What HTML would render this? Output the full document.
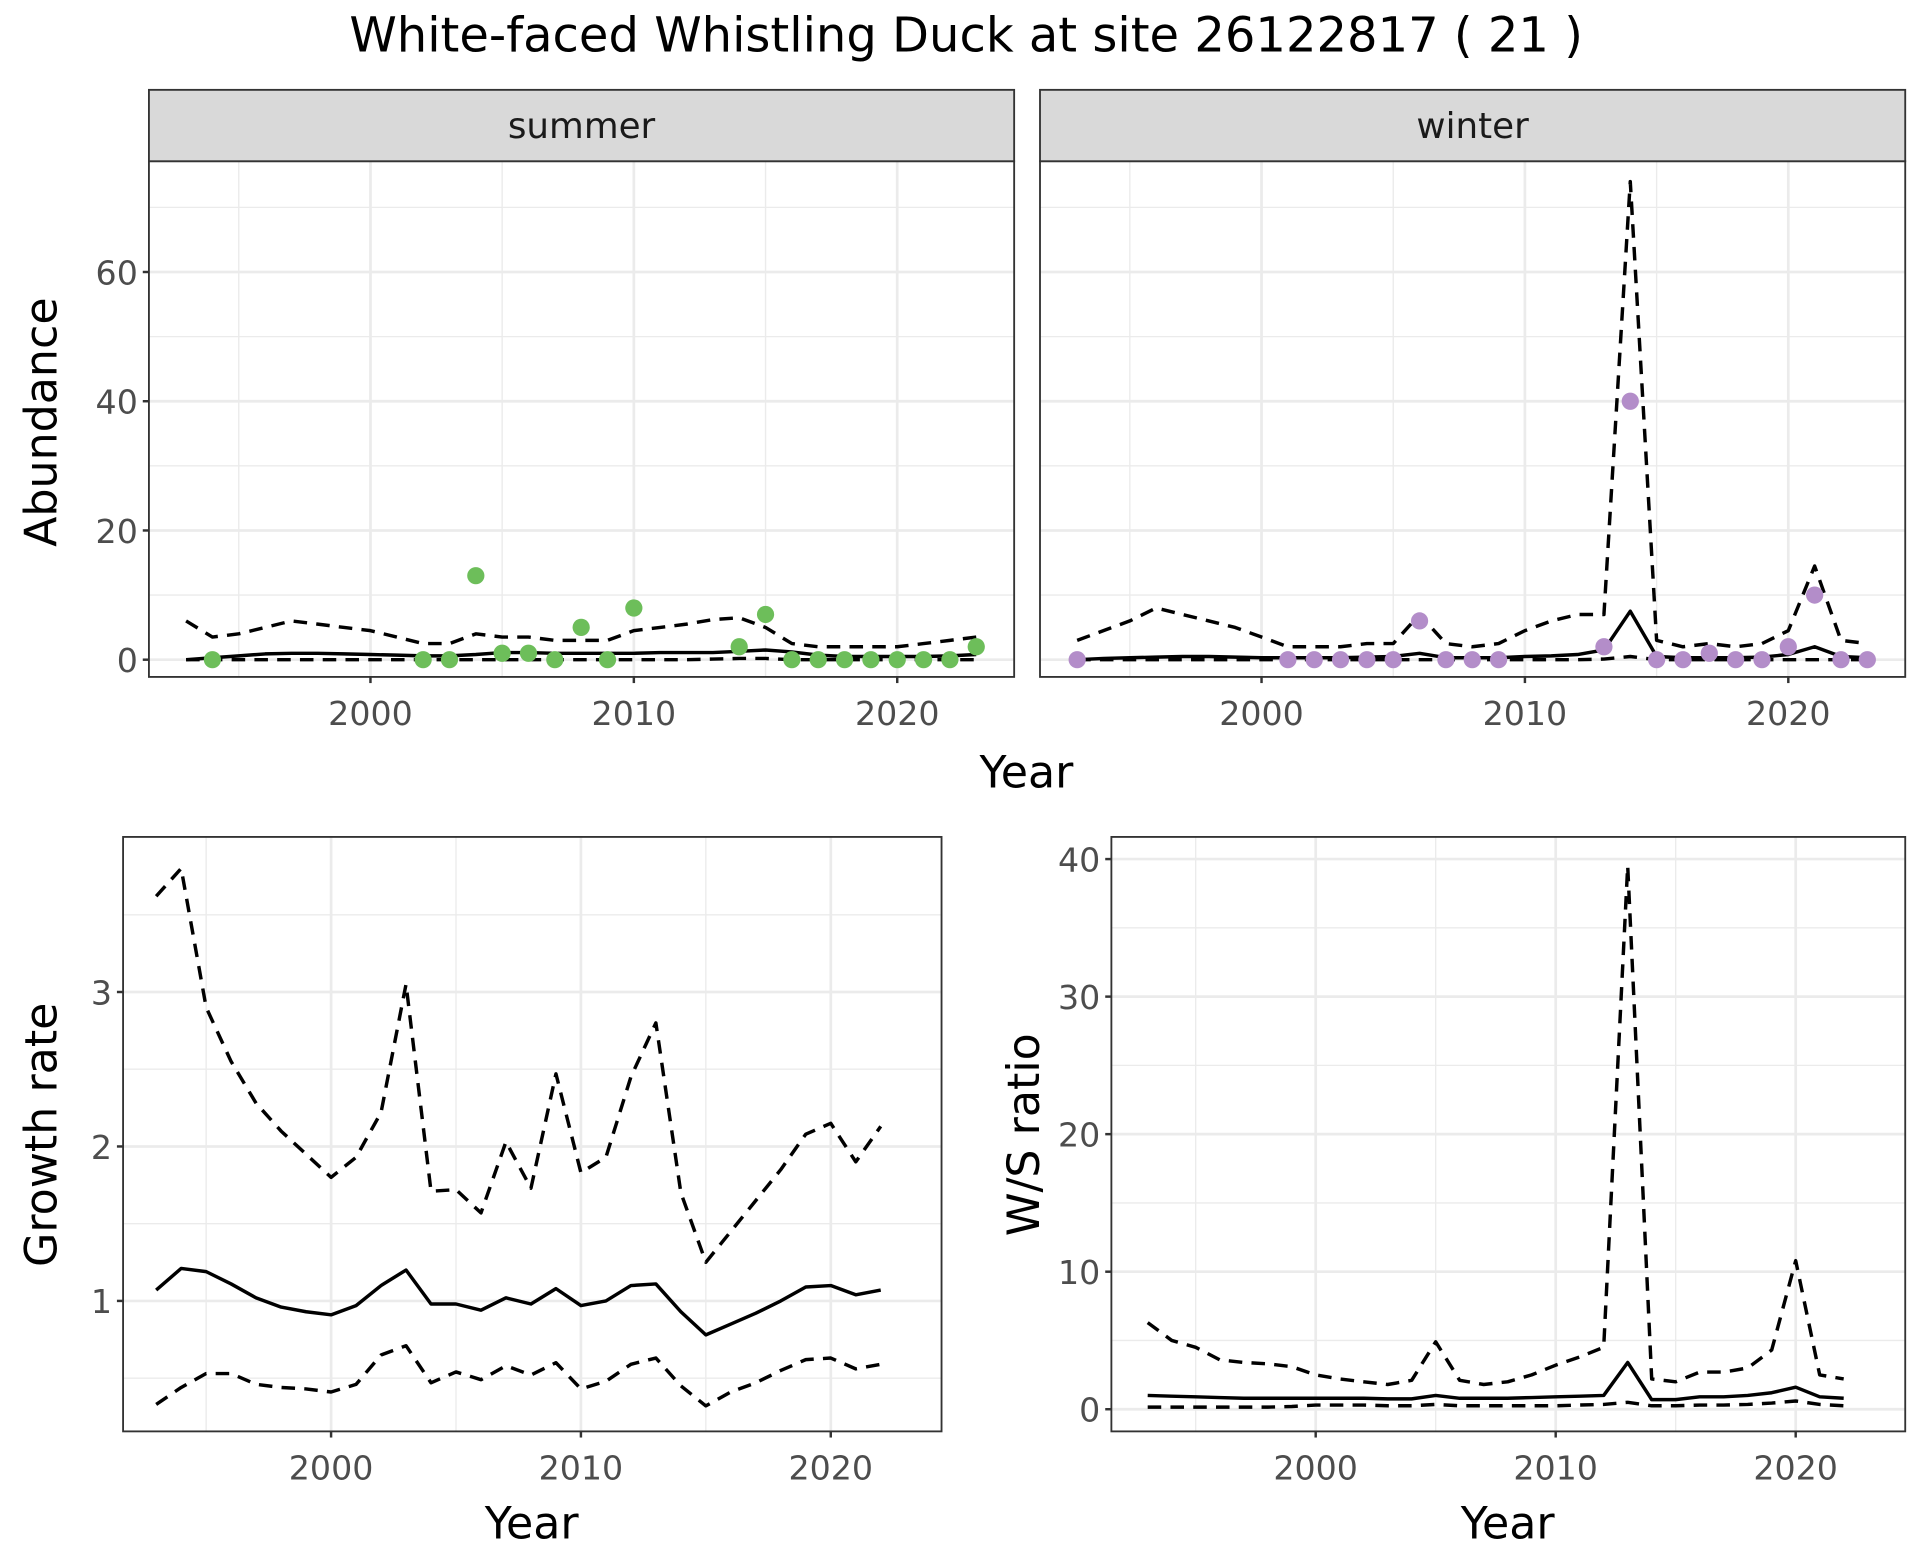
<!DOCTYPE html>
<html><head><meta charset="utf-8"><style>
html,body{margin:0;padding:0;background:#fff;}
svg{display:block;font-family:"DejaVu Sans","Liberation Sans",sans-serif;}
</style></head><body>
<svg id="chart" width="1920" height="1560" viewBox="0 0 1560 1267.5" xmlns="http://www.w3.org/2000/svg">
<text x="785" y="42" font-size="39" text-anchor="middle" fill="#000">White-faced Whistling Duck at site 26122817 ( 21 )</text>
</svg>
<script>
const summerYears=[1994,2002,2003,2004,2005,2006,2007,2008,2009,2010,2014,2015,2016,2017,2018,2019,2020,2021,2022,2023];
const summerCounts=[0,0,0,13,1,1,0,5,0,8,2,7,0,0,0,0,0,0,0,2];
const winterYears=[1993,2001,2002,2003,2004,2005,2006,2007,2008,2009,2013,2014,2015,2016,2017,2018,2019,2020,2021,2022,2023];
const winterCounts=[0,0,0,0,0,0,6,0,0,0,2,40,0,0,1,0,0,2,10,0,0];
const fitYears=[1993,1994,1995,1996,1997,1998,1999,2000,2001,2002,2003,2004,2005,2006,2007,2008,2009,2010,2011,2012,2013,2014,2015,2016,2017,2018,2019,2020,2021,2022,2023];
const summerMean=[0,0.3,0.6,0.9,1,1,0.9,0.8,0.7,0.6,0.6,0.8,1.1,1.1,1,1,1,1,1.1,1.1,1.1,1.3,1.5,1.2,0.7,0.5,0.5,0.5,0.5,0.6,0.8];
const summerUpper=[6,3.5,4,5,6,5.5,5,4.5,3.5,2.5,2.5,4,3.5,3.5,3,3,3,4.5,5,5.5,6.2,6.5,5,2.5,2,2,2,2,2.5,3,3.5];
const summerLower=[0,0,0,0,0,0,0,0,0,0,0,0,0,0,0,0,0,0,0,0,0.1,0.2,0.2,0,0,0,0,0,0,0,0];
const winterMean=[0,0.2,0.3,0.4,0.5,0.5,0.4,0.3,0.3,0.3,0.3,0.4,0.5,1,0.3,0.3,0.3,0.5,0.6,0.8,1.5,7.5,0.5,0.3,0.3,0.3,0.4,0.8,2,0.5,0.3];
const winterUpper=[3,4.5,6,8,7,6,5,3.5,2,2,2,2.5,2.5,7,2.5,2,2.5,4.5,6,7,7,74,3,2,2.5,2,2.5,4.5,14.5,3,2.5];
const winterLower=[0,0,0,0,0,0,0,0,0,0,0,0,0,0,0,0,0,0,0,0,0.1,0.5,0,0,0,0,0,0,0,0,0];
const rateYears=[1993,1994,1995,1996,1997,1998,1999,2000,2001,2002,2003,2004,2005,2006,2007,2008,2009,2010,2011,2012,2013,2014,2015,2016,2017,2018,2019,2020,2021,2022];
const growthMean=[1.07,1.21,1.19,1.11,1.02,0.96,0.93,0.91,0.97,1.1,1.2,0.98,0.98,0.94,1.02,0.98,1.08,0.97,1.0,1.1,1.11,0.93,0.78,0.85,0.92,1.0,1.09,1.1,1.04,1.07];
const growthUpper=[3.62,3.8,2.9,2.55,2.28,2.1,1.95,1.8,1.93,2.22,3.05,1.71,1.72,1.57,2.03,1.73,2.47,1.83,1.93,2.45,2.8,1.7,1.25,1.45,1.65,1.85,2.08,2.15,1.9,2.13];
const growthLower=[0.33,0.44,0.53,0.53,0.46,0.44,0.43,0.41,0.46,0.65,0.71,0.47,0.54,0.49,0.58,0.52,0.6,0.43,0.48,0.59,0.63,0.45,0.32,0.41,0.47,0.55,0.62,0.63,0.56,0.59];
const ratioMean=[1,0.95,0.9,0.85,0.8,0.8,0.8,0.8,0.8,0.8,0.75,0.75,1,0.8,0.8,0.8,0.85,0.9,0.95,1.0,3.4,0.7,0.7,0.9,0.9,1.0,1.2,1.6,0.9,0.8];
const ratioUpper=[6.3,5,4.5,3.6,3.4,3.3,3.1,2.5,2.2,2.0,1.8,2.1,4.9,2.1,1.8,2,2.5,3.2,3.8,4.5,39.5,2.2,2,2.7,2.7,3,4.3,10.8,2.5,2.2];
const ratioLower=[0.15,0.15,0.15,0.15,0.15,0.15,0.2,0.3,0.3,0.3,0.25,0.25,0.35,0.25,0.25,0.25,0.25,0.25,0.3,0.35,0.5,0.25,0.25,0.3,0.3,0.35,0.45,0.6,0.35,0.25];
const xTicks=[2000,2010,2020];
const xMinor=[1995,2005,2015];
const abundTicks=[0,20,40,60];const abundMinor=[10,30,50,70];
const growthTicks=[1,2,3];const growthMinor=[0.5,1.5,2.5,3.5];
const ratioTicks=[0,10,20,30,40];const ratioMinor=[5,15,25,35];

const svg=document.getElementById('chart');
const NS='http://www.w3.org/2000/svg';
function mk(tag,attrs,parent){const e=document.createElementNS(NS,tag);for(const k in attrs)e.setAttribute(k,attrs[k]);(parent||svg).appendChild(e);return e;}
function lin(d0,d1,r0,r1){return v=>r0+(v-d0)*(r1-r0)/(d1-d0);}

function panel(name,p){
  const g=mk('g',{});
  
  
  mk('rect',{x:p.x0,y:p.y0,width:p.x1-p.x0,height:p.y1-p.y0,fill:'#fff'},g);
  p.yMinor.forEach(v=>{const y=p.sy(v);const l=mk('line',{x1:p.x0,x2:p.x1,y1:y,y2:y,stroke:'#EBEBEB','stroke-width':1.1},g);});
  xMinor.forEach(v=>{const x=p.sx(v);const l=mk('line',{x1:x,x2:x,y1:p.y0,y2:p.y1,stroke:'#EBEBEB','stroke-width':1.1},g);});
  p.yTicks.forEach(v=>{const y=p.sy(v);const l=mk('line',{x1:p.x0,x2:p.x1,y1:y,y2:y,stroke:'#EBEBEB','stroke-width':2.2},g);});
  xTicks.forEach(v=>{const x=p.sx(v);const l=mk('line',{x1:x,x2:x,y1:p.y0,y2:p.y1,stroke:'#EBEBEB','stroke-width':2.2},g);});
  return g;
}
function axes(p,showY){
  const g=mk('g',{});
  
  
  xTicks.forEach(v=>{const x=p.sx(v);mk('line',{x1:x,x2:x,y1:p.y1,y2:p.y1+5,stroke:'#333','stroke-width':2},g);
    const t=mk('text',{x:x,y:p.y1+39,'font-size':27,'text-anchor':'middle',fill:'#4D4D4D'},g);t.textContent=v;
    });
  if(showY)p.yTicks.forEach(v=>{const y=p.sy(v);mk('line',{x1:p.x0-5,x2:p.x0,y1:y,y2:y,stroke:'#333','stroke-width':2},g);
    const t=mk('text',{x:p.x0-9,y:y+10,'font-size':27,'text-anchor':'end',fill:'#4D4D4D'},g);t.textContent=v;
    });
}
function border(p){const r=mk('rect',{x:p.x0,y:p.y0,width:p.x1-p.x0,height:p.y1-p.y0,fill:'none',stroke:'#333','stroke-width':1.5});}
function line(p,xs,ys,dash,name){
  const d=xs.map((x,i)=>(i?'L':'M')+p.sx(x).toFixed(1)+','+p.sy(ys[i]).toFixed(1)).join('');
  const a={d:d,fill:'none',stroke:'#000','stroke-width':2.8,'stroke-linejoin':'round'};
  if(dash)a['stroke-dasharray']='11,7.5';
  const e=mk('path',a);
  
  
}
function points(p,xs,ys,col,name){
  xs.forEach((x,i)=>{const c=mk('circle',{cx:p.sx(x),cy:p.sy(ys[i]),r:7,fill:col});
    
    });
}
function strip(p,label){
  const r=mk('rect',{x:p.x0,y:73,width:p.x1-p.x0,height:58,fill:'#D9D9D9',stroke:'#333','stroke-width':1.5});
  
  const t=mk('text',{x:(p.x0+p.x1)/2,y:112,'font-size':29,'text-anchor':'middle',fill:'#1A1A1A'});t.textContent=label;
  
}
function label(txt,x,y,rot,name){
  const t=mk('text',{x:x,y:y,'font-size':36,'text-anchor':'middle',fill:'#000',transform:rot?`rotate(-90 ${x} ${y})`:''});t.textContent=txt;
  
}

const yA=lin(0,60,536,221);
const pS={x0:121,x1:824,y0:131,y1:550,sx:lin(2000,2020,301,729),sy:yA,yTicks:abundTicks,yMinor:abundMinor};
const pW={x0:845,x1:1548,y0:131,y1:550,sx:lin(2000,2020,1025,1453),sy:yA,yTicks:abundTicks,yMinor:abundMinor};
const pG={x0:100,x1:765,y0:680,y1:1163,sx:lin(2000,2020,269,675),sy:lin(1,3,1057,806),yTicks:growthTicks,yMinor:growthMinor};
const pR={x0:903,x1:1548,y0:680,y1:1163,sx:lin(2000,2020,1069,1459),sy:lin(0,40,1145,698),yTicks:ratioTicks,yMinor:ratioMinor};

panel('summer-panel',pS);
line(pS,fitYears,summerUpper,true,'summer-upper-ci');
line(pS,fitYears,summerLower,true,'summer-lower-ci');
line(pS,fitYears,summerMean,false,'summer-mean-line');
points(pS,summerYears,summerCounts,'#6DBE5A','summer-count-point');
border(pS);strip(pS,'summer');axes(pS,true);

panel('winter-panel',pW);
line(pW,fitYears,winterUpper,true,'winter-upper-ci');
line(pW,fitYears,winterLower,true,'winter-lower-ci');
line(pW,fitYears,winterMean,false,'winter-mean-line');
points(pW,winterYears,winterCounts,'#B38DC9','winter-count-point');
border(pW);strip(pW,'winter');axes(pW,false);

panel('growth-panel',pG);
line(pG,rateYears,growthUpper,true,'growth-upper-ci');
line(pG,rateYears,growthLower,true,'growth-lower-ci');
line(pG,rateYears,growthMean,false,'growth-mean-line');
border(pG);axes(pG,true);

panel('ratio-panel',pR);
line(pR,rateYears,ratioUpper,true,'ratio-upper-ci');
line(pR,rateYears,ratioLower,true,'ratio-lower-ci');
line(pR,rateYears,ratioMean,false,'ratio-mean-line');
border(pR);axes(pR,true);

label('Abundance',46,343,true,'y-axis-title-abundance');
label('Year',834,640,false,'x-axis-title-top');
label('Growth rate',46,922,true,'y-axis-title-growth');
label('Year',432,1250,false,'x-axis-title-growth');
label('W/S ratio',844,922,true,'y-axis-title-ratio');
label('Year',1225,1250,false,'x-axis-title-ratio');
</script>
</body></html>
